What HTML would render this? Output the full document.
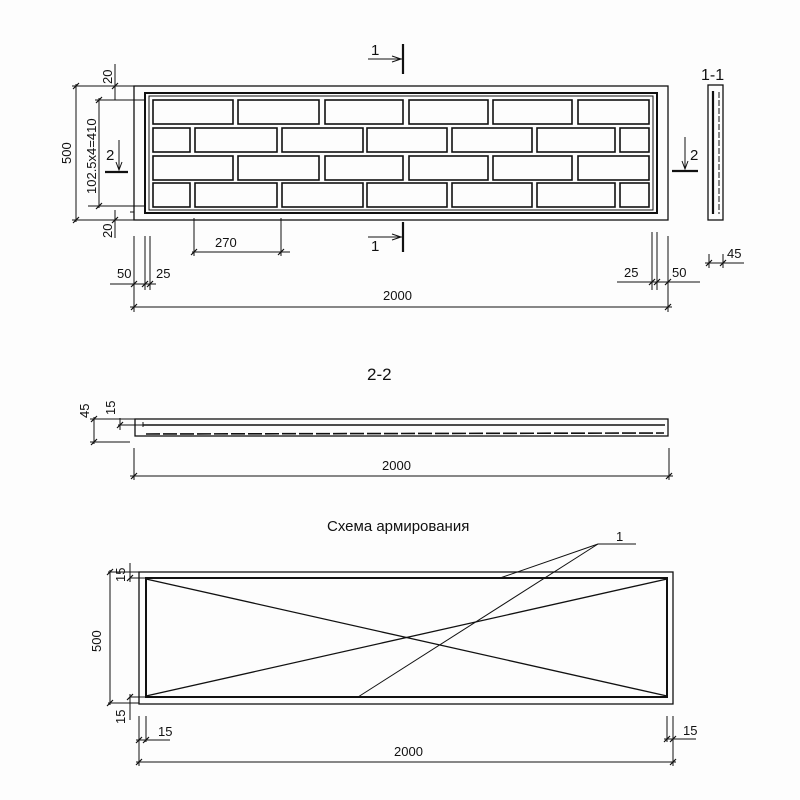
<!DOCTYPE html>
<html><head><meta charset="utf-8"><style>
html,body{margin:0;padding:0;background:#fff;}
svg{display:block;}
text{font-family:"Liberation Sans","Noto Sans CJK SC",sans-serif;fill:#111;}
</style></head><body>
<svg width="800" height="800" viewBox="0 0 800 800" xmlns="http://www.w3.org/2000/svg">
<rect width="800" height="800" fill="#fdfdfd"/>
<g stroke="#111" fill="none" stroke-width="1.3">
<!-- Main view -->
<rect x="134" y="86" width="534" height="134"/>
<rect x="145" y="93" width="512" height="120" stroke-width="2"/>
<rect x="149" y="96" width="504" height="114" stroke-width="1"/>
<g stroke-width="1.6">
<rect x="153" y="100" width="80" height="24"/><rect x="238" y="100" width="81" height="24"/><rect x="325" y="100" width="78" height="24"/><rect x="409" y="100" width="79" height="24"/><rect x="493" y="100" width="79" height="24"/><rect x="578" y="100" width="71" height="24"/>
<rect x="153" y="156" width="80" height="24"/><rect x="238" y="156" width="81" height="24"/><rect x="325" y="156" width="78" height="24"/><rect x="409" y="156" width="79" height="24"/><rect x="493" y="156" width="79" height="24"/><rect x="578" y="156" width="71" height="24"/>
<rect x="153" y="128" width="37" height="24"/><rect x="195" y="128" width="82" height="24"/><rect x="282" y="128" width="81" height="24"/><rect x="367" y="128" width="80" height="24"/><rect x="452" y="128" width="80" height="24"/><rect x="537" y="128" width="78" height="24"/><rect x="620" y="128" width="29" height="24"/>
<rect x="153" y="183" width="37" height="24"/><rect x="195" y="183" width="82" height="24"/><rect x="282" y="183" width="81" height="24"/><rect x="367" y="183" width="80" height="24"/><rect x="452" y="183" width="80" height="24"/><rect x="537" y="183" width="78" height="24"/><rect x="620" y="183" width="29" height="24"/>
</g>
<!-- left dims -->
<line x1="72" y1="86" x2="134" y2="86" stroke-width="1"/>
<line x1="72" y1="220" x2="134" y2="220" stroke-width="1"/>
<line x1="76" y1="84" x2="76" y2="222" stroke-width="1"/>
<line x1="95" y1="100" x2="145" y2="100" stroke-width="1"/>
<line x1="88" y1="206" x2="145" y2="206" stroke-width="1"/>
<line x1="99" y1="98" x2="99" y2="208" stroke-width="1"/>
<line x1="115" y1="64" x2="115" y2="100" stroke-width="1"/>
<line x1="115" y1="210" x2="115" y2="238" stroke-width="1"/>
<line x1="130" y1="212" x2="134" y2="212" stroke-width="1"/>
<!-- section 2 marker left -->
<line x1="105" y1="172" x2="128" y2="172" stroke-width="2.2"/>
<line x1="119" y1="140" x2="119" y2="170" stroke-width="1"/>
<path d="M116 162 L119 170 L122 162" stroke-width="1"/>
<!-- section 2 marker right -->
<line x1="672" y1="171" x2="698" y2="171" stroke-width="2.2"/>
<line x1="685" y1="137" x2="685" y2="169" stroke-width="1"/>
<path d="M682 161 L685 169 L688 161" stroke-width="1"/>
<!-- section 1 markers -->
<line x1="403" y1="44" x2="403" y2="74" stroke-width="2.2"/>
<line x1="368" y1="59" x2="402" y2="59" stroke-width="1"/>
<path d="M392 56 L401 59 L392 62" stroke-width="1"/>
<line x1="403" y1="222" x2="403" y2="252" stroke-width="2.2"/>
<line x1="368" y1="237" x2="402" y2="237" stroke-width="1"/>
<path d="M392 234 L401 237 L392 240" stroke-width="1"/>
<!-- 270 dim -->
<line x1="194" y1="218" x2="194" y2="256" stroke-width="1"/>
<line x1="281" y1="218" x2="281" y2="256" stroke-width="1"/>
<line x1="192" y1="252" x2="290" y2="252" stroke-width="1"/>
<!-- 50/25 dims left -->
<line x1="134" y1="236" x2="134" y2="312" stroke-width="1"/>
<line x1="145" y1="236" x2="145" y2="290" stroke-width="1"/>
<line x1="150" y1="236" x2="150" y2="290" stroke-width="1"/>
<line x1="110" y1="284" x2="156" y2="284" stroke-width="1"/>
<!-- right dims -->
<line x1="652" y1="232" x2="652" y2="290" stroke-width="1"/>
<line x1="657" y1="232" x2="657" y2="290" stroke-width="1"/>
<line x1="668" y1="236" x2="668" y2="312" stroke-width="1"/>
<line x1="617" y1="282" x2="700" y2="282" stroke-width="1"/>
<line x1="130" y1="307" x2="672" y2="307" stroke-width="1"/>
<!-- section 1-1 -->
<rect x="708" y="85" width="15" height="135"/>
<line x1="713" y1="91" x2="713" y2="214" stroke-width="2.2"/>
<line x1="719" y1="92" x2="719" y2="214" stroke-width="1" stroke-dasharray="6 2"/>
<line x1="709" y1="254" x2="709" y2="268" stroke-width="1"/>
<line x1="723" y1="254" x2="723" y2="268" stroke-width="1"/>
<line x1="705" y1="263" x2="744" y2="263" stroke-width="1"/>
<!-- section 2-2 -->
<rect x="135" y="419" width="533" height="17"/>
<line x1="143" y1="425" x2="665" y2="425" stroke-width="1.6"/>
<line x1="143" y1="422" x2="143" y2="427" stroke-width="1"/>
<line x1="146" y1="434" x2="664" y2="433" stroke-width="1.6" stroke-dasharray="14 3"/>
<line x1="90" y1="419" x2="135" y2="419" stroke-width="1"/>
<line x1="90" y1="442" x2="130" y2="442" stroke-width="1"/>
<line x1="94" y1="417" x2="94" y2="444" stroke-width="1"/>
<line x1="120" y1="418" x2="120" y2="430" stroke-width="1"/>
<line x1="118" y1="425" x2="143" y2="425" stroke-width="1"/>
<line x1="134" y1="448" x2="134" y2="480" stroke-width="1"/>
<line x1="669" y1="448" x2="669" y2="480" stroke-width="1"/>
<line x1="130" y1="476" x2="673" y2="476" stroke-width="1"/>
<!-- reinforcement scheme -->
<rect x="139" y="572" width="534" height="132"/>
<rect x="146" y="578" width="521" height="119" stroke-width="2"/>
<line x1="146" y1="579" x2="667" y2="696"/>
<line x1="146" y1="696" x2="667" y2="579"/>
<line x1="598" y1="544" x2="636" y2="544" stroke-width="1"/>
<line x1="598" y1="544" x2="500" y2="578" stroke-width="1"/>
<line x1="598" y1="544" x2="358" y2="697" stroke-width="1"/>
<line x1="108" y1="572" x2="139" y2="572" stroke-width="1"/>
<line x1="108" y1="703" x2="139" y2="703" stroke-width="1"/>
<line x1="110" y1="570" x2="110" y2="705" stroke-width="1"/>
<line x1="130" y1="563" x2="130" y2="582" stroke-width="1"/>
<line x1="130" y1="578" x2="146" y2="578" stroke-width="1"/>
<line x1="130" y1="694" x2="130" y2="720" stroke-width="1"/>
<line x1="130" y1="697" x2="146" y2="697" stroke-width="1"/>
<line x1="139" y1="716" x2="139" y2="766" stroke-width="1"/>
<line x1="146" y1="716" x2="146" y2="742" stroke-width="1"/>
<line x1="136" y1="740" x2="170" y2="740" stroke-width="1"/>
<line x1="667" y1="716" x2="667" y2="742" stroke-width="1"/>
<line x1="673" y1="716" x2="673" y2="766" stroke-width="1"/>
<line x1="664" y1="739" x2="696" y2="739" stroke-width="1"/>
<line x1="136" y1="762" x2="676" y2="762" stroke-width="1"/>
</g>
<!-- ticks -->
<g stroke="#111" stroke-width="1.2">
<path d="M73 89 l6 -6 M73 223 l6 -6 M96 103 l6 -6 M96 209 l6 -6 M112 89 l6 -6 M112 223 l6 -6 M191 255 l6 -6 M278 255 l6 -6 M131 287 l6 -6 M142 287 l6 -6 M147 287 l6 -6 M649 285 l6 -6 M654 285 l6 -6 M665 285 l6 -6 M131 310 l6 -6 M665 310 l6 -6 M706 266 l6 -6 M720 266 l6 -6 M91 422 l6 -6 M91 445 l6 -6 M117 428 l6 -6 M131 479 l6 -6 M666 479 l6 -6 M107 575 l6 -6 M107 706 l6 -6 M127 581 l6 -6 M127 700 l6 -6 M136 743 l6 -6 M143 743 l6 -6 M664 742 l6 -6 M670 742 l6 -6 M136 765 l6 -6 M670 765 l6 -6"/>
</g>
<g font-size="13">
<text x="371" y="55" font-size="15">1</text>
<text x="371" y="251" font-size="15">1</text>
<text x="106" y="160" font-size="15">2</text>
<text x="690" y="160" font-size="15">2</text>
<text x="701" y="80" font-size="16">1-1</text>
<text x="215" y="247">270</text>
<text x="117" y="278">50</text>
<text x="156" y="278">25</text>
<text x="624" y="277">25</text>
<text x="672" y="277">50</text>
<text x="727" y="258">45</text>
<text x="383" y="300">2000</text>
<text transform="translate(71,164) rotate(-90)">500</text>
<text transform="translate(96,194) rotate(-90)">102.5x4=410</text>
<text transform="translate(112,84) rotate(-90)">20</text>
<text transform="translate(112,238) rotate(-90)">20</text>
<text x="367" y="380" font-size="17">2-2</text>
<text transform="translate(89,418) rotate(-90)">45</text>
<text transform="translate(115,415) rotate(-90)">15</text>
<text x="382" y="470">2000</text>
<text x="327" y="531" font-size="15">Схема армирования</text>
<text x="616" y="541">1</text>
<text transform="translate(125,582) rotate(-90)">15</text>
<text transform="translate(101,652) rotate(-90)">500</text>
<text transform="translate(125,724) rotate(-90)">15</text>
<text x="158" y="736">15</text>
<text x="683" y="735">15</text>
<text x="394" y="756">2000</text>
</g>
</svg>
</body></html>
